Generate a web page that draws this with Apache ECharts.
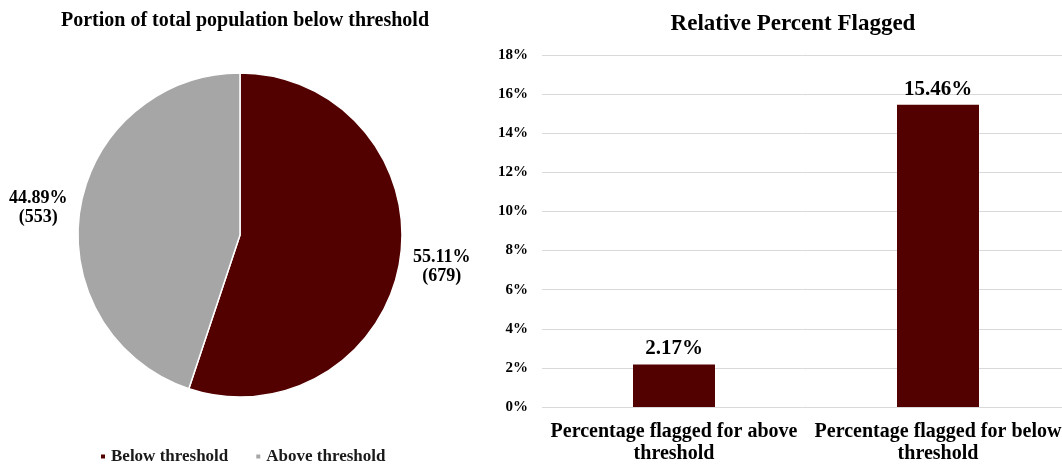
<!DOCTYPE html>
<html>
<head>
<meta charset="utf-8">
<script src="https://cdn.jsdelivr.net/npm/echarts@6/dist/echarts.min.js"></script>
<style>
  html, body { margin: 0; padding: 0; background: #fff; }
  #chart { width: 1062px; height: 464px; }
</style>
</head>
<body>
<div id="chart"></div>
<script>
// pie data
const pieNames = ['Below threshold', 'Above threshold']
const pieCounts = [679, 553]
const pieColors = ['#530000', '#a6a6a6']

// bar data (percent)
const barCategories = ['Percentage flagged for above\nthreshold', 'Percentage flagged for below\nthreshold']
const barValues = [2.17, 15.46]
const yMax = 18
const yStep = 2

const serif = "'Liberation Serif', 'DejaVu Serif', serif"

const chart = echarts.init(document.getElementById('chart'))
chart.setOption({
  animation: false,
  textStyle: { fontFamily: serif },
  title: [
    {
      text: 'Portion of total population below threshold',
      left: 240, top: 6, textAlign: 'center',
      textStyle: { fontFamily: serif, fontSize: 20, fontWeight: 'bold', color: '#000' }
    },
    {
      text: 'Relative Percent Flagged',
      left: 788, top: 8, textAlign: 'center',
      textStyle: { fontFamily: serif, fontSize: 23, fontWeight: 'bold', color: '#000' }
    }
  ],
  legend: {
    left: 94, top: 443,
    icon: 'rect', itemWidth: 6, itemHeight: 6, itemGap: 26,
    data: pieNames,
    textStyle: { fontFamily: serif, fontSize: 17, fontWeight: 'bold', color: '#1a1a1a' }
  },
  grid: { left: 542, top: 55, width: 528, bottom: 57, outerBoundsMode: 'none', containLabel: false },
  xAxis: {
    type: 'category',
    data: barCategories,
    axisLine: { show: false },
    axisTick: { show: false },
    axisLabel: {
      interval: 0, margin: 14, lineHeight: 22,
      fontFamily: serif, fontSize: 20, fontWeight: 'bold', color: '#000'
    }
  },
  yAxis: {
    type: 'value', min: 0, max: yMax, interval: yStep,
    axisLine: { show: false },
    axisTick: { show: false },
    splitLine: { lineStyle: { color: '#d9d9d9', width: 1 } },
    axisLabel: {
      margin: 14, formatter: (v) => v + '%',
      fontFamily: serif, fontSize: 15, fontWeight: 'bold', color: '#000'
    }
  },
  series: [
    {
      type: 'pie',
      center: [240, 235],
      radius: 162,
      startAngle: 90,
      clockwise: true,
      avoidLabelOverlap: false,
      itemStyle: { borderColor: '#fff', borderWidth: 1.5 },
      labelLine: { show: false, length: 6, length2: 0 },
      label: {
        position: 'outside',
        bleedMargin: 0,
        formatter: (p) => '{a|' + p.percent.toFixed(2) + '%}\n{a|(' + p.value + ')}',
        rich: {
          a: { width: 62, align: 'center', lineHeight: 19, fontFamily: serif, fontSize: 18, fontWeight: 'bold', color: '#000' }
        }
      },
      data: pieNames.map((n, i) => ({
        name: n,
        value: pieCounts[i],
        itemStyle: { color: pieColors[i] },
        label: i === 0 ? { padding: [10, 0, 0, 0] } : {}
      }))
    },
    {
      type: 'bar',
      data: barValues,
      barWidth: 82,
      itemStyle: { color: '#530000' },
      label: {
        show: true, position: 'top', distance: 5,
        formatter: (p) => p.value.toFixed(2) + '%',
        fontFamily: serif, fontSize: 21, fontWeight: 'bold', color: '#000'
      }
    }
  ]
})
</script>
</body>
</html>
